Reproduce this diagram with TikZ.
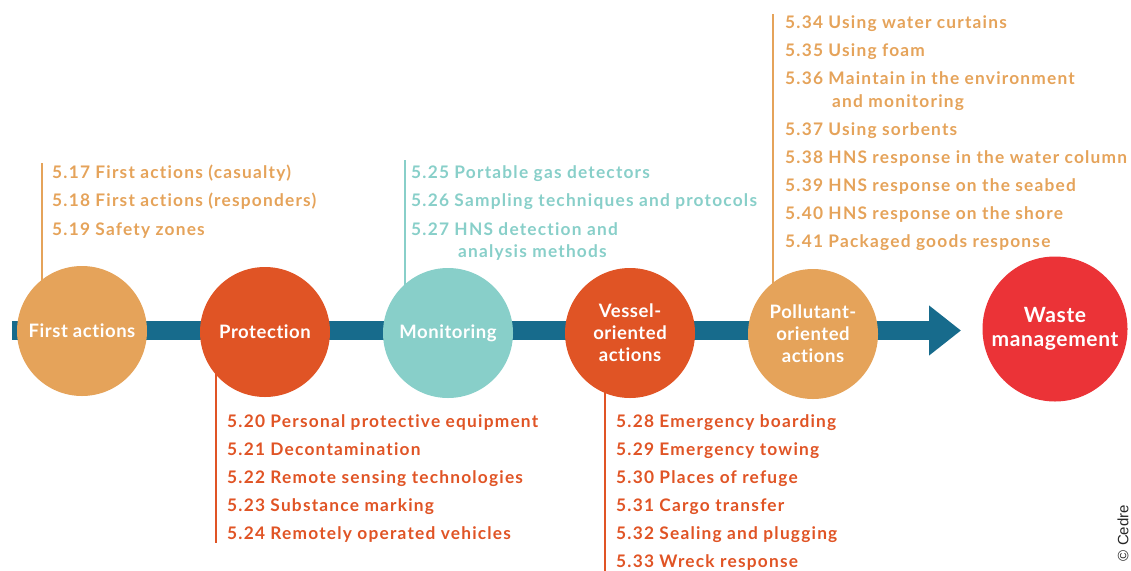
\documentclass[tikz,border=0pt]{standalone}
\usepackage{fontspec}
\setmainfont{Lato}
\newfontfamily\listf{Lato}[LetterSpace=7,Ligatures=NoCommon]
\newfontfamily\circf{Lato}[LetterSpace=3,Ligatures=NoCommon]
\newfontfamily\arialf{Liberation Sans}
\usetikzlibrary{arrows.meta,backgrounds}
\definecolor{barblue}{HTML}{176B8C}
\definecolor{lorange}{HTML}{E5A35A}
\definecolor{rorange}{HTML}{E05425}
\definecolor{mteal}{HTML}{88CFC9}
\definecolor{wred}{HTML}{EB3337}
\begin{document}
\begin{tikzpicture}[x=1pt,y=-1pt,
  stage/.style={circle, minimum size=130pt, inner sep=0pt, text=white, align=center,
    font=\circf\fontsize{18.5}{22}\selectfont\bfseries},
  item/.style={anchor=base west, inner sep=0pt, font=\listf\fontsize{17.3}{20}\selectfont\bfseries},
  vline/.style={line width=2pt},
  bar/.style={barblue, line width=19pt, -{Triangle[length=32pt,width=48pt]}}
]
\useasboundingbox (0,0) rectangle (1131,570);
% stages
\node[stage, fill=lorange] (fa) at (82,331) {First actions};
\node[stage, fill=rorange] (pr) at (265,332) {Protection};
\node[stage, fill=mteal] (mo) at (448,333) {Monitoring};
\node[stage, fill=rorange] (ve) at (630,333) {Vessel-\\oriented\\actions};
\node[stage, fill=lorange] (po) at (813,334) {Pollutant-\\oriented\\actions};
\node[stage, fill=wred, minimum size=145pt, font=\circf\fontsize{21}{24}\selectfont\bfseries] (wa) at (1055,329) {Waste\\management};
% bar and lines behind
\coordinate (barstart) at (12,330.5);
\coordinate (bartip) at (961,330.5);
\coordinate (fatop) at (42,163);
\coordinate (motop) at (405,160);
\coordinate (potop) at (773,14);
\coordinate (prbot) at (216,543);
\coordinate (vebot) at (605,572);
\begin{scope}[on background layer]
\draw[bar] (barstart) -- (bartip);
\draw[vline, lorange] (fatop) -- (fatop |- fa.center);
\draw[vline, mteal] (motop) -- (motop |- mo.center);
\draw[vline, lorange] (potop) -- (potop |- po.center);
\draw[vline, rorange] (pr.center -| prbot) -- (prbot);
\draw[vline, rorange] (ve.center -| vebot) -- (vebot);
\end{scope}
% first actions list
\begin{scope}[every node/.style={item, text=lorange}]
\node (t517) at (52,178) {5.17 First actions (casualty)};
\node (t518) at (52,206) {5.18 First actions (responders)};
\node (t519) at (52,235) {5.19 Safety zones};
\end{scope}
% monitoring list
\begin{scope}[every node/.style={item, text=mteal}]
\node (t525) at (411,178) {5.25 Portable gas detectors};
\node (t526) at (411,206) {5.26 Sampling techniques and protocols};
\node (t527) at (411,235) {5.27 HNS detection and};
\node (t527b) at (458,257) {analysis methods};
\end{scope}
% pollutant list
\begin{scope}[every node/.style={item, text=lorange}]
\node (t534) at (785,28) {5.34 Using water curtains};
\node (t535) at (785,56) {5.35 Using foam};
\node (t536) at (785,84) {5.36 Maintain in the environment};
\node (t536b) at (832,107) {and monitoring};
\node (t537) at (785,135) {5.37 Using sorbents};
\node (t538) at (785,163) {5.38 HNS response in the water column};
\node (t539) at (785,191) {5.39 HNS response on the seabed};
\node (t540) at (785,219) {5.40 HNS response on the shore};
\node (t541) at (785,247) {5.41 Packaged goods response};
\end{scope}
% protection list
\begin{scope}[every node/.style={item, text=rorange}]
\node (t520) at (227,427) {5.20 Personal protective equipment};
\node (t521) at (227,455) {5.21 Decontamination};
\node (t522) at (227,483) {5.22 Remote sensing technologies};
\node (t523) at (227,511) {5.23 Substance marking};
\node (t524) at (227,539) {5.24 Remotely operated vehicles};
\end{scope}
% vessel list
\begin{scope}[every node/.style={item, text=rorange}]
\node (t528) at (616,427) {5.28 Emergency boarding};
\node (t529) at (616,455) {5.29 Emergency towing};
\node (t530) at (616,483) {5.30 Places of refuge};
\node (t531) at (616,511) {5.31 Cargo transfer};
\node (t532) at (616,539) {5.32 Sealing and plugging};
\node (t533) at (616,567) {5.33 Wreck response};
\end{scope}
\node[rotate=90, inner sep=0pt, font=\arialf\fontsize{15}{17}\selectfont, text=black!85] (copy) at (1123,533) {© Cedre};
\end{tikzpicture}
\end{document}
